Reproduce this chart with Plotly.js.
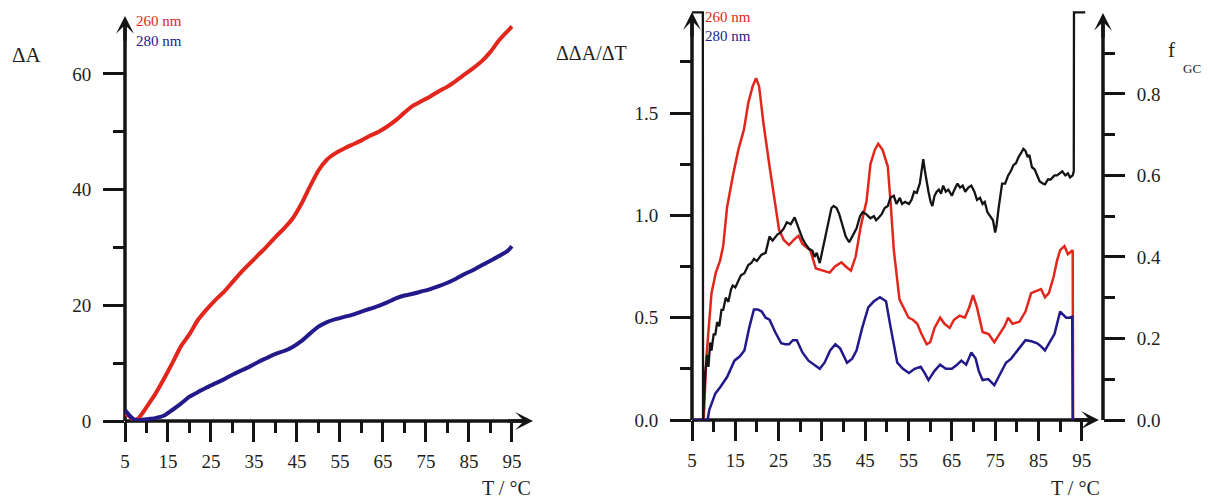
<!DOCTYPE html>
<html><head><meta charset="utf-8">
<script src="https://cdn.plot.ly/plotly-3.0.1.min.js"></script>
<style>html,body{margin:0;padding:0;background:#fff}#chart{width:1208px;height:498px}</style>
</head><body><div id="chart"></div>
<script>
// ---------- Left panel: ΔA vs T ----------
const tempA = [5,6,7,8,9,10,12,14,16,18,20,22,24,26,28,30,32,34,36,38,40,42,44,46,48,50,52,54,56,58,60,62,64,66,68,70,72,74,76,78,80,82,84,86,88,90,92,94,95];
const dA260 = [1.2,0.8,0.2,0.4,1.3,2.4,4.6,7.2,10.0,12.9,15.0,17.5,19.3,20.9,22.3,24.0,25.7,27.2,28.7,30.2,31.8,33.3,35.0,37.5,40.5,43.3,45.2,46.3,47.1,47.8,48.5,49.3,50.0,50.9,52.0,53.3,54.5,55.3,56.1,57.0,57.8,58.8,59.9,61.0,62.2,63.8,65.8,67.4,68.2];
const dA280 = [1.9,1.0,0.3,0.1,0.2,0.3,0.5,0.9,1.9,3.0,4.2,5.0,5.8,6.5,7.2,8.0,8.7,9.4,10.2,10.9,11.6,12.1,12.8,13.8,15.1,16.3,17.1,17.6,18.0,18.4,18.9,19.4,19.9,20.5,21.2,21.7,22.0,22.4,22.8,23.3,23.9,24.6,25.4,26.1,26.9,27.7,28.5,29.4,30.2];

// ---------- Right panel: ΔΔA/ΔT and f_GC vs T ----------
const tempB260 = [5,7.7,8.3,9.0,9.5,10.5,11.5,12.2,13.1,14.5,15.7,17.0,18.0,19.0,19.8,20.5,21.5,22.9,24.0,25.1,26.2,27.4,28.5,29.6,30.5,32.3,33.6,35.0,36.8,38.0,39.5,40.5,41.7,42.8,44.0,45.3,46.2,47.2,48.0,49.0,50.2,50.9,51.6,52.9,54.0,55.0,56.0,57.0,58.0,59.2,60.0,61.0,62.3,63.3,64.5,65.5,66.8,68.0,69.0,69.9,70.8,72.1,73.5,74.8,76.0,77.2,78.0,79.0,80.6,82.0,83.3,84.5,85.6,86.5,87.4,88.5,89.3,90.0,91.0,91.8,92.7,92.9,93.0];
const d260 = [0,0,0.3,0.5,0.62,0.72,0.78,0.85,1.04,1.2,1.32,1.42,1.55,1.63,1.67,1.63,1.45,1.24,1.08,0.93,0.88,0.855,0.88,0.9,0.86,0.83,0.74,0.73,0.72,0.75,0.77,0.75,0.73,0.8,0.95,1.07,1.25,1.32,1.35,1.32,1.24,1.05,0.83,0.59,0.54,0.5,0.49,0.47,0.42,0.37,0.38,0.45,0.5,0.47,0.45,0.49,0.51,0.5,0.55,0.61,0.55,0.43,0.42,0.38,0.42,0.46,0.5,0.47,0.48,0.53,0.62,0.63,0.64,0.6,0.62,0.7,0.78,0.83,0.85,0.81,0.83,0.83,0];
const tempB280 = [5,8.6,9.0,10.4,11.5,13.1,14.8,16.0,17.1,18.2,19.3,20.2,21.1,22.0,22.9,24.2,25.6,26.5,27.4,28.3,29.2,30.5,31.9,33.2,34.5,35.6,36.9,38.1,39.2,40.8,42.0,43.0,44.3,45.7,47.0,48.4,49.8,50.8,52.4,53.7,55.1,56.4,57.8,58.7,59.6,61.0,62.3,63.6,65.0,66.2,67.2,68.3,69.5,70.5,71.2,72.1,73.4,74.8,76.1,77.5,78.7,79.8,81.0,82.0,83.4,84.7,85.6,86.5,87.6,88.7,90.0,90.8,91.4,92.1,92.8,92.9,95.5];
const d280 = [0,0,0.05,0.13,0.16,0.21,0.29,0.31,0.34,0.45,0.54,0.54,0.53,0.5,0.49,0.43,0.375,0.37,0.37,0.39,0.39,0.33,0.29,0.27,0.25,0.28,0.34,0.37,0.35,0.28,0.3,0.34,0.45,0.55,0.58,0.6,0.58,0.46,0.28,0.25,0.23,0.25,0.26,0.23,0.195,0.24,0.27,0.25,0.25,0.27,0.29,0.27,0.33,0.3,0.24,0.195,0.2,0.17,0.22,0.28,0.3,0.33,0.36,0.39,0.385,0.375,0.36,0.34,0.38,0.42,0.53,0.51,0.5,0.5,0.505,0,0];
const tempGC = [5,7.5,7.55,7.9,8.1,8.5,8.8,9.2,9.5,10,10.4,10.8,11.3,11.8,12.2,12.8,13.4,14,14.4,15,15.6,16.3,17.1,18,18.7,19.3,20,21,22,22.9,23.6,24.2,24.7,25.5,26.2,26.9,27.8,28.7,29.3,29.8,30.5,31.3,32,32.8,33.3,33.8,34.5,35,35.8,36.5,37.2,37.7,38.4,39,39.8,40.5,41.3,42,43,43.8,44.4,45.2,46.2,47,47.5,48,48.8,49.5,50.2,50.8,51.6,52.2,53,53.5,54.2,55.1,55.7,56.3,56.9,57.6,58.1,58.4,58.8,59.2,59.6,60.1,60.5,61,61.5,62,62.5,63,63.6,64.2,65,65.6,66.3,66.9,67.5,68.1,68.8,69.5,70.2,70.8,71.5,72.1,72.6,73.2,73.9,74.5,75,75.3,75.8,76.3,76.6,77.3,78,78.6,79.2,79.8,80.4,81,81.5,82,82.5,82.9,83.5,84.1,84.7,85.3,86,86.5,87.2,87.8,88.7,89.3,89.9,90.5,91.2,91.8,92.3,92.9,93.15,93.2,95.8];
const fGC = [1,1,0,0.08,0.12,0.16,0.13,0.19,0.17,0.21,0.21,0.24,0.23,0.27,0.27,0.3,0.29,0.32,0.33,0.325,0.34,0.355,0.36,0.38,0.385,0.395,0.39,0.405,0.41,0.45,0.44,0.45,0.455,0.46,0.47,0.485,0.48,0.497,0.48,0.47,0.445,0.43,0.42,0.415,0.40,0.41,0.385,0.41,0.45,0.49,0.52,0.525,0.52,0.505,0.475,0.45,0.436,0.45,0.47,0.5,0.51,0.505,0.495,0.5,0.49,0.495,0.505,0.52,0.525,0.545,0.55,0.53,0.545,0.53,0.535,0.53,0.54,0.56,0.557,0.58,0.62,0.64,0.61,0.58,0.56,0.535,0.525,0.55,0.56,0.565,0.555,0.575,0.56,0.565,0.55,0.565,0.58,0.57,0.575,0.56,0.57,0.575,0.56,0.54,0.545,0.53,0.535,0.51,0.50,0.49,0.46,0.475,0.52,0.555,0.58,0.58,0.6,0.61,0.625,0.63,0.645,0.655,0.665,0.66,0.645,0.65,0.62,0.615,0.6,0.585,0.58,0.578,0.59,0.59,0.6,0.6,0.605,0.61,0.6,0.605,0.595,0.6,0.61,1,1];

// ---------- Tick definitions ----------
const xMajor = [5,15,25,35,45,55,65,75,85,95];
const xMinor = [10,20,30,40,50,60,70,80,90];
const yAMajor = [0,20,40,60];
const yAMinor = [10,30,50];
const yBMajor = [0,0.5,1.0,1.5];
const yBLabels = ['0.0','0.5','1.0','1.5'];
const yBMinor = [0.25,0.75,1.25,1.75];
const yCMajor = [0,0.2,0.4,0.6,0.8];
const yCLabels = ['0.0','0.2','0.4','0.6','0.8'];
const yCMinor = [0.1,0.3,0.5,0.7,0.9];

const RED = '#e2261c', NAVY = '#22198a', BLACK = '#141414', INK = '#231f20';
const SERIF = '"Liberation Serif", "Times New Roman", Times, serif';
const W = 1208, H = 498;
const px = v => v / W, py = v => 1 - v / H;

const traces = [
  {x: tempA, y: dA260, xaxis: 'x', yaxis: 'y', mode: 'lines', line: {color: RED, width: 4, shape: 'spline', smoothing: 0.6}, hoverinfo: 'skip'},
  {x: tempA, y: dA280, xaxis: 'x', yaxis: 'y', mode: 'lines', line: {color: NAVY, width: 4, shape: 'spline', smoothing: 0.6}, hoverinfo: 'skip'},
  {x: tempGC, y: fGC, xaxis: 'x2', yaxis: 'y3', mode: 'lines', line: {color: BLACK, width: 2.3}, hoverinfo: 'skip'},
  {x: tempB260, y: d260, xaxis: 'x2', yaxis: 'y2', mode: 'lines', line: {color: RED, width: 2.5}, hoverinfo: 'skip'},
  {x: tempB280, y: d280, xaxis: 'x2', yaxis: 'y2', mode: 'lines', line: {color: NAVY, width: 2.5}, hoverinfo: 'skip'}
];

const tickFont = {family: SERIF, size: 19, color: INK};
function xAxis(domain, anchor) {
  return {domain: domain, range: [5, 99.9], anchor: anchor, showgrid: false, zeroline: false, showline: false,
    tickmode: 'array', tickvals: xMajor, ticktext: xMajor.map(String), ticks: 'outside', ticklen: 20, tickwidth: 3, tickcolor: BLACK,
    minor: {tickmode: 'array', tickvals: xMinor, ticks: 'outside', ticklen: 11, tickwidth: 3, tickcolor: BLACK},
    tickfont: tickFont, ticklabelstandoff: 3, layer: 'below traces', fixedrange: true};
}
function yAxis(domain, range, major, labels, minor, extra) {
  return Object.assign({domain: domain, range: range, showgrid: false, zeroline: false, showline: false,
    tickmode: 'array', tickvals: major, ticktext: labels, ticks: 'outside', ticklen: 21, tickwidth: 3, tickcolor: BLACK,
    minor: {tickmode: 'array', tickvals: minor, ticks: 'outside', ticklen: 11, tickwidth: 3, tickcolor: BLACK},
    tickfont: tickFont, ticklabelstandoff: 8, layer: 'below traces', fixedrange: true}, extra || {});
}

const shapeLine = (xref, yref, x0, y0, x1, y1) => ({type: 'line', xref: xref, yref: yref, x0: x0, y0: y0, x1: x1, y1: y1, layer: 'below', line: {color: BLACK, width: 3.5}});
const shapes = [
  shapeLine('x domain', 'y domain', 0, 0, 0.99, 0),
  shapeLine('x domain', 'y domain', 0, 0, 0, 0.985),
  shapeLine('x2 domain', 'y2 domain', 0, 0, 0.975, 0),
  shapeLine('x2 domain', 'y2 domain', 0, 0, 0, 0.97),
  shapeLine('x2 domain', 'y2 domain', 1, 0, 1, 0.968)
];

const head = (xref, yref, x, y, ax, ay) => ({xref: xref, yref: yref, x: x, y: y, ax: ax, ay: ay, text: '', showarrow: true, arrowhead: 3, arrowsize: 0.85, arrowwidth: 3.5, arrowcolor: BLACK, standoff: 0});
const txt = (text, x, y, size, color, xanchor) => ({xref: 'paper', yref: 'paper', x: px(x), y: py(y), text: text, showarrow: false, xanchor: xanchor || 'left', yanchor: 'middle', font: {family: SERIF, size: size, color: color}});

const annotations = [
  head('x domain', 'y domain', 1, 0, -26, 0),
  head('x domain', 'y domain', 0, 1, 0, 26),
  head('x2 domain', 'y2 domain', 0.99, 0, -26, 0),
  head('x2 domain', 'y2 domain', 0, 0.983, 0, 26),
  head('x2 domain', 'y2 domain', 1, 0.981, 0, 26),
  txt('ΔA', 10, 55, 21, INK),
  txt('ΔΔA/ΔT', 554, 53, 20, INK),
  txt('f', 1166, 50, 21, INK),
  txt('GC', 1181, 69, 13, INK),
  txt('T / °C', 533, 488, 20, INK, 'right'),
  txt('T / °C', 1102, 488, 20, INK, 'right'),
  txt('260 nm', 134, 21, 15, RED),
  txt('280 nm', 134, 41, 15, NAVY),
  txt('260 nm', 703, 17, 15, RED),
  txt('280 nm', 703, 36, 15, NAVY)
];

const layout = {
  width: W, height: H, margin: {l: 0, r: 0, t: 0, b: 0},
  paper_bgcolor: '#ffffff', plot_bgcolor: '#ffffff', showlegend: false,
  font: {family: SERIF, color: INK},
  xaxis: xAxis([px(125), px(533)], 'y'),
  yaxis: yAxis([py(421), py(16)], [0, 70], yAMajor, yAMajor.map(String), yAMinor, {anchor: 'x'}),
  xaxis2: xAxis([px(692), px(1103)], 'y2'),
  yaxis2: yAxis([py(420), py(5)], [0, 2.028], yBMajor, yBLabels, yBMinor, {anchor: 'x2'}),
  yaxis3: yAxis([py(420), py(5)], [0, 1.018], yCMajor, yCLabels, yCMinor, {anchor: 'x2', overlaying: 'y2', side: 'right'}),
  shapes: shapes,
  annotations: annotations
};

Plotly.newPlot('chart', traces, layout, {staticPlot: true, displayModeBar: false});
</script>
</body></html>
